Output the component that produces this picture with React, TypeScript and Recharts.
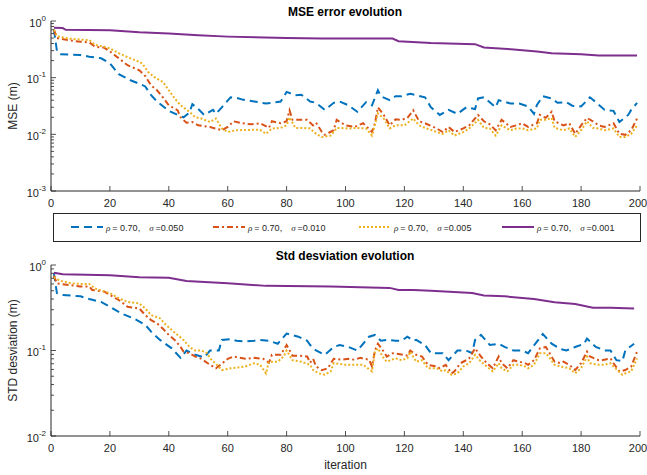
import { LineChart, Line, XAxis, YAxis, Legend } from 'recharts';

type Pt = [number, number];

// iteration axis
const iterTicks = [0, 20, 40, 60, 80, 100, 120, 140, 160, 180, 200];

// log ticks (major + minor)
const mseTicks = [
  0.001, 0.002, 0.003, 0.004, 0.005, 0.006, 0.007, 0.008, 0.009,
  0.01, 0.02, 0.03, 0.04, 0.05, 0.06, 0.07, 0.08, 0.09,
  0.1, 0.2, 0.3, 0.4, 0.5, 0.6, 0.7, 0.8, 0.9, 1,
];
const stdTicks = [
  0.01, 0.02, 0.03, 0.04, 0.05, 0.06, 0.07, 0.08, 0.09,
  0.1, 0.2, 0.3, 0.4, 0.5, 0.6, 0.7, 0.8, 0.9, 1,
];

const rhoLabel = '0.70';
const sigmaLabels = ['0.050', '0.010', '0.005', '0.001'];

// MSE error evolution, [iteration, value]
const mse050: Pt[] = [
  [1, 0.7], [2, 0.3], [3, 0.26], [7, 0.255], [10, 0.25], [13, 0.235], [17, 0.22], [20, 0.18],
  [23, 0.115], [27, 0.09], [30, 0.078], [32, 0.07], [34, 0.049], [36, 0.038], [40, 0.026],
  [43, 0.022], [45, 0.02], [47, 0.024], [48, 0.034], [50, 0.028], [52, 0.022], [55, 0.027],
  [56, 0.023], [58, 0.03], [61, 0.045], [63, 0.044], [65, 0.041], [69, 0.038], [73, 0.035],
  [75, 0.036], [78, 0.038], [80, 0.056], [83, 0.049], [85, 0.05], [88, 0.038], [90, 0.036],
  [93, 0.027], [96, 0.036], [98, 0.038], [101, 0.0325], [104, 0.025], [107, 0.037], [109, 0.0325],
  [111, 0.06], [112, 0.047], [115, 0.04], [117, 0.047], [119, 0.047], [122, 0.052], [124, 0.049],
  [127, 0.045], [129, 0.03], [132, 0.022], [135, 0.027], [138, 0.023], [141, 0.03], [144, 0.028],
  [145, 0.043], [147, 0.045], [151, 0.03], [152, 0.04], [156, 0.035], [159, 0.035], [162, 0.031],
  [164, 0.023], [165, 0.033], [167, 0.047], [170, 0.043], [172, 0.036], [175, 0.037], [177, 0.032],
  [180, 0.031], [183, 0.045], [185, 0.037], [188, 0.027], [191, 0.026], [193, 0.0165], [196, 0.022],
  [197, 0.027], [199, 0.036],
];
const mse010: Pt[] = [
  [1, 0.7], [2, 0.5], [6, 0.457], [10, 0.43], [13, 0.42], [15, 0.35], [18, 0.34], [20, 0.29],
  [23, 0.22], [26, 0.166], [30, 0.135], [32, 0.107], [34, 0.073], [36, 0.06], [38, 0.045],
  [40, 0.0325], [43, 0.0265], [44, 0.02], [46, 0.016], [48, 0.0165], [50, 0.0144], [54, 0.0135],
  [58, 0.0118], [60, 0.0135], [62, 0.017], [65, 0.0157], [68, 0.015], [71, 0.0157], [74, 0.013],
  [75, 0.017], [78, 0.0157], [80, 0.017], [81, 0.0265], [82, 0.018], [85, 0.018], [87, 0.018],
  [89, 0.0144], [90, 0.016], [92, 0.011], [93, 0.0098], [96, 0.0118], [97, 0.018], [100, 0.0144],
  [103, 0.0135], [106, 0.0157], [109, 0.011], [110, 0.0157], [111, 0.03], [113, 0.022], [115, 0.0144],
  [117, 0.0185], [119, 0.018], [121, 0.0195], [123, 0.0265], [125, 0.017], [127, 0.0157], [131, 0.0127],
  [133, 0.011], [135, 0.0135], [137, 0.011], [140, 0.0127], [142, 0.0144], [145, 0.022], [147, 0.017],
  [149, 0.015], [151, 0.0118], [153, 0.018], [156, 0.0135], [158, 0.0144], [160, 0.0157], [162, 0.0135],
  [165, 0.0157], [166, 0.022], [168, 0.0195], [170, 0.025], [171, 0.017], [174, 0.0144], [176, 0.0157],
  [178, 0.0102], [180, 0.0144], [182, 0.0195], [184, 0.017], [186, 0.0144], [188, 0.0135], [191, 0.0157],
  [193, 0.0102], [195, 0.0098], [197, 0.0118], [199, 0.019],
];
const mse005: Pt[] = [
  [1, 0.7], [2, 0.54], [6, 0.49], [10, 0.47], [13, 0.46], [15, 0.38], [18, 0.35], [20, 0.33],
  [23, 0.27], [26, 0.23], [30, 0.19], [31, 0.177], [33, 0.126], [35, 0.103], [38, 0.084], [40, 0.06],
  [42, 0.043], [44, 0.0325], [47, 0.025], [49, 0.02], [51, 0.019], [54, 0.0165], [56, 0.019],
  [58, 0.0127], [60, 0.011], [63, 0.0118], [68, 0.012], [71, 0.012], [73, 0.0102], [75, 0.0127],
  [78, 0.013], [80, 0.0144], [81, 0.02], [83, 0.013], [85, 0.013], [88, 0.0127], [90, 0.0102],
  [92, 0.009], [95, 0.0095], [97, 0.013], [101, 0.0127], [104, 0.013], [107, 0.0127], [109, 0.0095],
  [111, 0.0234], [113, 0.019], [115, 0.0127], [117, 0.0144], [120, 0.0144], [123, 0.019], [125, 0.0144],
  [127, 0.013], [131, 0.011], [133, 0.0102], [135, 0.0118], [137, 0.0095], [140, 0.011], [142, 0.0127],
  [145, 0.018], [147, 0.013], [149, 0.0127], [151, 0.0095], [153, 0.0144], [156, 0.0118], [158, 0.0127],
  [160, 0.0127], [162, 0.0118], [165, 0.0127], [166, 0.018], [168, 0.018], [170, 0.0195], [171, 0.013],
  [174, 0.0118], [176, 0.0127], [178, 0.009], [180, 0.0118], [182, 0.017], [184, 0.013], [186, 0.0127],
  [188, 0.0118], [191, 0.0127], [193, 0.009], [195, 0.009], [197, 0.0102], [199, 0.0144],
];
const mse001: Pt[] = [
  [1, 0.76], [4, 0.75], [5, 0.7], [20, 0.686], [30, 0.63], [40, 0.6], [50, 0.56], [60, 0.53],
  [80, 0.5], [92, 0.49], [116, 0.49], [118, 0.44], [129, 0.41], [144, 0.39], [147, 0.34],
  [155, 0.32], [165, 0.29], [170, 0.27], [180, 0.258], [186, 0.245], [199, 0.245],
];

// Std desviation evolution, [iteration, value]
const std050: Pt[] = [
  [1, 0.8], [2, 0.47], [4, 0.446], [10, 0.43], [13, 0.4], [17, 0.37], [20, 0.325], [24, 0.27],
  [28, 0.238], [32, 0.2], [34, 0.166], [37, 0.133], [41, 0.106], [44, 0.082], [45, 0.09], [46, 0.1],
  [49, 0.089], [52, 0.083], [54, 0.1], [57, 0.1], [58, 0.133], [61, 0.136], [63, 0.13], [66, 0.128],
  [69, 0.13], [71, 0.133], [74, 0.13], [77, 0.12], [80, 0.158], [84, 0.145], [87, 0.13], [88, 0.116],
  [90, 0.1], [93, 0.089], [96, 0.11], [98, 0.116], [101, 0.11], [104, 0.1], [106, 0.12], [108, 0.145],
  [110, 0.152], [112, 0.13], [114, 0.133], [117, 0.13], [119, 0.13], [121, 0.145], [123, 0.13],
  [124, 0.133], [127, 0.116], [129, 0.093], [133, 0.093], [135, 0.077], [138, 0.1], [141, 0.1],
  [143, 0.093], [144, 0.133], [146, 0.152], [149, 0.116], [152, 0.12], [154, 0.11], [157, 0.1],
  [160, 0.1], [162, 0.093], [165, 0.127], [167, 0.156], [170, 0.12], [173, 0.104], [175, 0.1],
  [178, 0.11], [181, 0.12], [182, 0.138], [185, 0.11], [188, 0.1], [190, 0.1], [192, 0.077],
  [194, 0.075], [195, 0.1], [198, 0.12],
];
const std010: Pt[] = [
  [1, 0.75], [2, 0.61], [6, 0.584], [10, 0.56], [13, 0.56], [14, 0.51], [18, 0.49], [20, 0.446],
  [23, 0.39], [26, 0.325], [30, 0.31], [32, 0.26], [34, 0.227], [36, 0.208], [38, 0.18], [40, 0.152],
  [42, 0.133], [44, 0.11], [45, 0.097], [47, 0.093], [49, 0.085], [51, 0.08], [54, 0.068], [56, 0.062],
  [58, 0.07], [60, 0.08], [62, 0.085], [66, 0.08], [69, 0.082], [72, 0.08], [74, 0.072], [75, 0.089],
  [78, 0.089], [80, 0.116], [82, 0.087], [84, 0.087], [87, 0.085], [88, 0.072], [89, 0.08], [90, 0.065],
  [92, 0.059], [94, 0.062], [96, 0.08], [99, 0.078], [101, 0.08], [103, 0.078], [105, 0.082],
  [108, 0.078], [109, 0.065], [110, 0.1], [111, 0.12], [113, 0.097], [114, 0.085], [116, 0.093],
  [119, 0.09], [121, 0.087], [122, 0.1], [124, 0.089], [126, 0.085], [128, 0.068], [131, 0.065],
  [132, 0.062], [134, 0.068], [136, 0.054], [137, 0.057], [139, 0.071], [141, 0.077], [142, 0.081],
  [144, 0.106], [146, 0.085], [148, 0.071], [150, 0.062], [152, 0.085], [153, 0.071], [155, 0.062],
  [157, 0.077], [159, 0.074], [161, 0.071], [162, 0.068], [164, 0.077], [166, 0.106], [168, 0.11],
  [169, 0.097], [171, 0.074], [173, 0.071], [174, 0.074], [176, 0.068], [178, 0.059], [180, 0.071],
  [182, 0.097], [183, 0.085], [186, 0.077], [187, 0.077], [190, 0.081], [191, 0.071], [193, 0.057],
  [195, 0.059], [197, 0.065], [199, 0.097],
];
const std005: Pt[] = [
  [1, 0.72], [3, 0.655], [7, 0.61], [10, 0.6], [13, 0.6], [15, 0.53], [18, 0.49], [20, 0.47],
  [23, 0.41], [26, 0.37], [30, 0.355], [32, 0.31], [34, 0.26], [37, 0.238], [39, 0.2], [41, 0.174],
  [43, 0.152], [45, 0.133], [47, 0.11], [49, 0.1], [51, 0.1], [53, 0.093], [54, 0.081], [56, 0.07],
  [58, 0.059], [61, 0.062], [66, 0.065], [69, 0.071], [71, 0.068], [73, 0.054], [74, 0.074],
  [77, 0.074], [79, 0.085], [80, 0.1], [82, 0.077], [85, 0.074], [88, 0.068], [89, 0.059], [91, 0.054],
  [93, 0.052], [95, 0.057], [96, 0.071], [100, 0.068], [103, 0.068], [106, 0.068], [109, 0.057],
  [110, 0.097], [111, 0.106], [113, 0.081], [114, 0.074], [117, 0.081], [119, 0.077], [121, 0.081],
  [122, 0.097], [124, 0.074], [126, 0.077], [128, 0.062], [131, 0.062], [133, 0.057], [134, 0.059],
  [136, 0.052], [138, 0.054], [140, 0.065], [142, 0.071], [144, 0.089], [146, 0.074], [148, 0.065],
  [150, 0.057], [152, 0.071], [153, 0.062], [155, 0.057], [157, 0.068], [159, 0.068], [161, 0.065],
  [162, 0.062], [164, 0.068], [166, 0.093], [168, 0.093], [169, 0.085], [171, 0.068], [173, 0.065],
  [176, 0.062], [178, 0.054], [180, 0.062], [182, 0.085], [183, 0.071], [186, 0.068], [188, 0.068],
  [190, 0.071], [191, 0.065], [194, 0.052], [195, 0.054], [197, 0.057], [199, 0.081],
];
const std001: Pt[] = [
  [1, 0.81], [4, 0.78], [20, 0.76], [30, 0.72], [40, 0.71], [46, 0.65], [60, 0.61], [73, 0.57],
  [95, 0.56], [115, 0.54], [118, 0.51], [123, 0.51], [129, 0.5], [143, 0.47], [147, 0.44],
  [154, 0.43], [164, 0.4], [171, 0.366], [178, 0.35], [184, 0.316], [190, 0.316], [198, 0.31],
];

const AXIS = '#262626';
const FONT = '"Liberation Sans", Arial, Helvetica, sans-serif';
const Y_TICK_MARGIN = 4;
const X_TICK_MARGIN = 2;

const styles = [
  { color: '#0072BD', dash: '8 5' },
  { color: '#D95319', dash: '6 3 2 3' },
  { color: '#EDB120', dash: '2 2' },
  { color: '#7E2F8E', dash: undefined as string | undefined },
];

const toRows = (pts: Pt[]) => pts.map(([x, v]) => ({ x, v }));

const LogTick = ({ x, y, payload }: any) => {
  const v = payload.value;
  const e = Math.round(Math.log10(v));
  const major = Math.abs(Math.log10(v) - e) < 1e-6;
  const ax = x + Y_TICK_MARGIN;
  return (
    <g>
      <line x1={ax} x2={ax + (major ? 5 : 3)} y1={y} y2={y} stroke={AXIS} strokeWidth={0.8} />
      {major && (
        <text x={x - 1} y={y + 5.5} textAnchor="end" fontSize={11} fill={AXIS} fontFamily={FONT}>
          10<tspan dy={-6} fontSize={8}>{e}</tspan>
        </text>
      )}
    </g>
  );
};

const IterTick = ({ x, y, payload }: any) => {
  const ay = y - X_TICK_MARGIN;
  // keep the last label inside the page edge
  const lx = payload.value === 200 ? x - 2 : x;
  return (
    <g>
      <line x1={x} x2={x} y1={ay} y2={ay - 5} stroke={AXIS} strokeWidth={0.8} />
      <text x={lx} y={ay + 15.5} textAnchor="middle" fontSize={11} fill={AXIS} fontFamily={FONT}>
        {payload.value}
      </text>
    </g>
  );
};

const legendX = [17, 159, 305, 448];

const LegendBox = () => (
  <div style={{ width: 588, height: 29, border: `1px solid ${AXIS}`, boxSizing: 'border-box', background: '#fff' }}>
    <svg width={586} height={27} style={{ display: 'block' }}>
      {sigmaLabels.map((s, i) => (
        <g key={s}>
          <line
            x1={legendX[i]}
            x2={legendX[i] + 32}
            y1={13}
            y2={13}
            stroke={styles[i].color}
            strokeWidth={2}
            strokeDasharray={styles[i].dash}
          />
          <text x={legendX[i] + 35} y={16.5} fontSize={9} fill={AXIS} fontFamily={FONT}>
            <tspan fontStyle="italic" fontFamily='"Liberation Serif", serif'>ρ</tspan>
            <tspan dx={2}>= {rhoLabel},</tspan>
            <tspan dx={9} fontStyle="italic" fontFamily='"Liberation Serif", serif'>σ</tspan>
            <tspan dx={2}>={s}</tspan>
          </text>
        </g>
      ))}
    </svg>
  </div>
);

interface PanelProps {
  title: string;
  yLabel: string;
  ticks: number[];
  domain: [number, number];
  series: Pt[][];
  height: number;
  top: number;
  marginTop: number;
  marginBottom: number;
  xHeight: number;
  xLabel?: string;
  legend?: boolean;
}

function Panel(p: PanelProps) {
  return (
    <div style={{ position: 'absolute', left: 0, top: p.top }}>
      <LineChart
        width={647}
        height={p.height}
        margin={{ top: p.marginTop, right: 7, left: 0, bottom: p.marginBottom }}
        style={{ overflow: 'visible' }}
      >
        <text x={345} y={p.marginTop - 5} textAnchor="middle" fontSize={12} fontWeight="bold" fill="#000" fontFamily={FONT}>
          {p.title}
        </text>
        <XAxis
          type="number"
          dataKey="x"
          domain={[0, 200]}
          ticks={iterTicks}
          interval={0}
          allowDuplicatedCategory={false}
          height={p.xHeight}
          tickSize={0}
          tickMargin={X_TICK_MARGIN}
          tick={<IterTick />}
          stroke={AXIS}
          label={
            p.xLabel
              ? { value: p.xLabel, position: 'insideBottom', offset: 6, style: { fontSize: 12, fill: AXIS, fontFamily: FONT } }
              : undefined
          }
        />
        <YAxis
          type="number"
          scale="log"
          domain={p.domain}
          allowDataOverflow
          ticks={p.ticks}
          interval={0}
          width={51}
          tickSize={0}
          tickMargin={Y_TICK_MARGIN}
          tick={<LogTick />}
          stroke={AXIS}
          label={{
            value: p.yLabel,
            angle: -90,
            position: 'insideLeft',
            offset: 13,
            style: { textAnchor: 'middle', fontSize: 12, fill: AXIS, fontFamily: FONT },
          }}
        />
        {p.series.map((pts, i) => (
          <Line
            key={i}
            data={toRows(pts)}
            dataKey="v"
            type="linear"
            stroke={styles[i].color}
            strokeWidth={2}
            strokeDasharray={styles[i].dash}
            dot={false}
            activeDot={false}
            isAnimationActive={false}
          />
        ))}
        {p.legend && (
          <Legend
            layout="horizontal"
            verticalAlign="middle"
            align="center"
            wrapperStyle={{ left: 53, top: 213, width: 588, height: 29 }}
            content={() => <LegendBox />}
          />
        )}
      </LineChart>
    </div>
  );
}

export default function App() {
  return (
    <div style={{ position: 'absolute', left: 0, top: 0, width: 647, height: 475, background: '#fff', fontFamily: FONT, overflow: 'hidden' }}>
      <Panel
        title="MSE error evolution"
        yLabel="MSE (m)"
        ticks={mseTicks}
        domain={[0.001, 1]}
        series={[mse050, mse010, mse005, mse001]}
        height={245}
        top={0}
        marginTop={21}
        marginBottom={33}
        xHeight={21}
        legend
      />
      <Panel
        title="Std desviation evolution"
        yLabel="STD desviation (m)"
        ticks={stdTicks}
        domain={[0.01, 1]}
        series={[std050, std010, std005, std001]}
        height={230}
        top={245}
        marginTop={20}
        marginBottom={0}
        xHeight={39}
        xLabel="iteration"
      />
    </div>
  );
}
